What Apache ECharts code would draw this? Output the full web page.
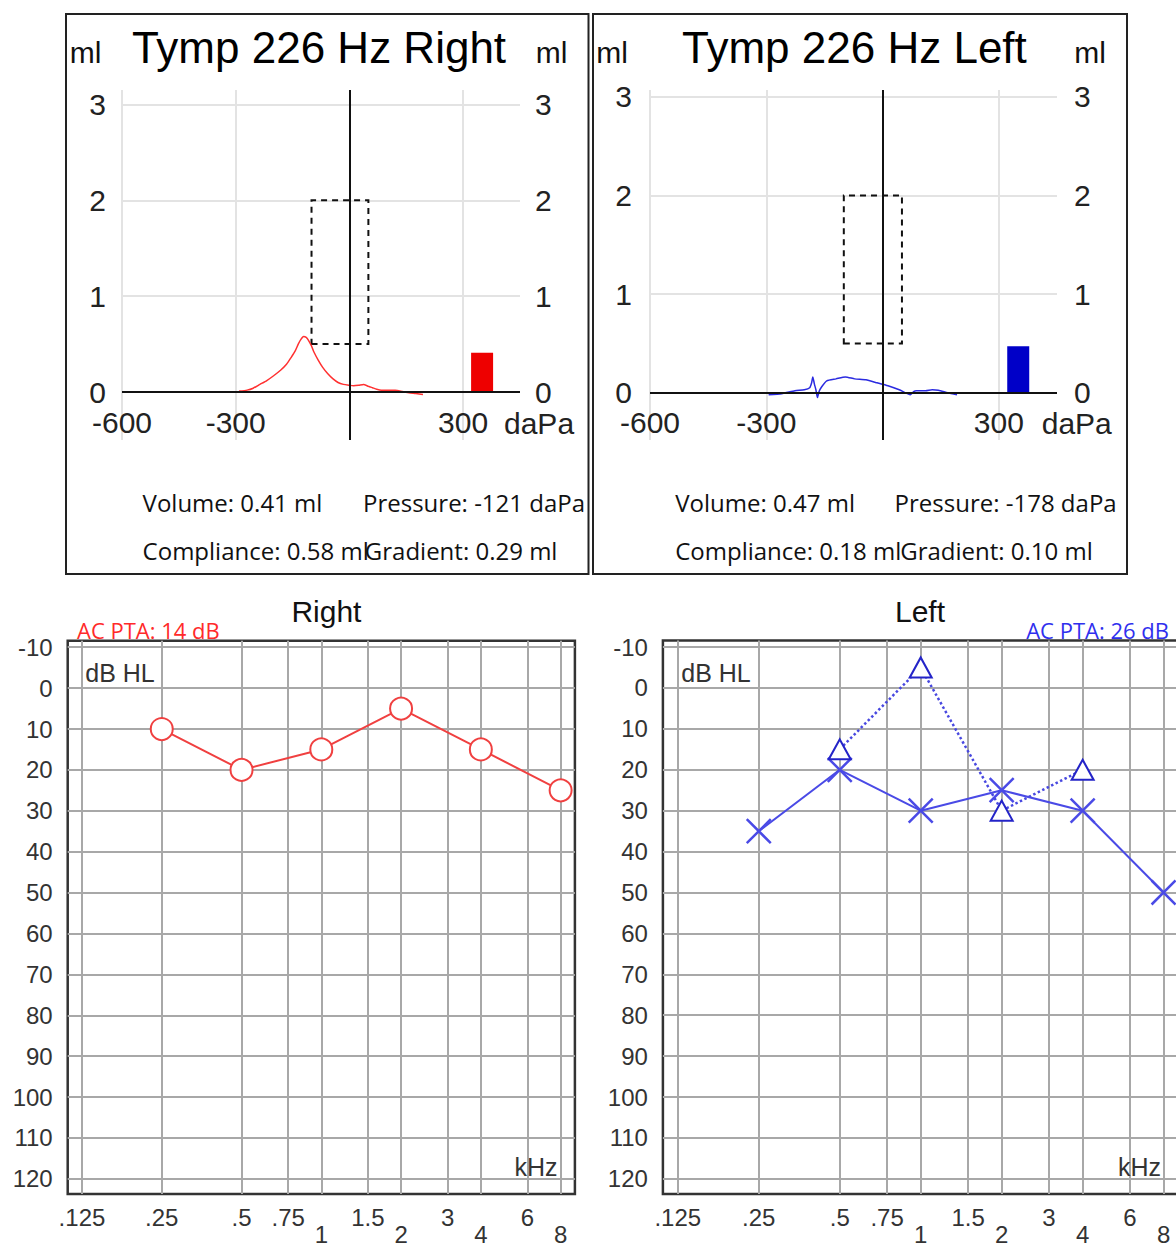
<!DOCTYPE html>
<html>
<head>
<meta charset="utf-8">
<title>Tympanometry and audiogram</title>
<script src="https://cdn.jsdelivr.net/npm/echarts@6/dist/echarts.min.js"></script>
<style>
  html, body { margin: 0; padding: 0; background: #fff; }
  #main { width: 1176px; height: 1251px; }
</style>
</head>
<body>
<div id="main"></div>
<script>
// tympanogram right ear: pressure (daPa) / compliance (ml)
const rightTympP  = [-291, -270, -254, -236, -218, -200, -181, -166, -154, -143, -135, -128, -121, -114, -108, -100, -94, -82, -71, -57, -44, -30, -16, 0, 11, 24, 37, 50, 61, 72, 84, 100, 121, 140, 157, 175, 194];
const rightTympMl = [0.01, 0.02, 0.04, 0.08, 0.12, 0.17, 0.23, 0.29, 0.36, 0.43, 0.50, 0.55, 0.58, 0.57, 0.54, 0.48, 0.42, 0.33, 0.26, 0.19, 0.14, 0.10, 0.08, 0.07, 0.065, 0.07, 0.08, 0.06, 0.045, 0.03, 0.02, 0.02, 0.018, 0.005, -0.007, -0.015, -0.025];
const rightVolume = 0.41;

// tympanogram left ear
const leftTympP  = [-294, -260, -226, -202, -188, -183, -180, -176, -172, -168, -164, -157, -144, -120, -96, -72, -43, -14, 14, 43, 72, 80, 87, 100, 111, 128, 144, 168, 192];
const leftTympMl = [-0.02, -0.01, 0.02, 0.03, 0.05, 0.10, 0.16, 0.09, 0.03, -0.05, 0.01, 0.06, 0.12, 0.14, 0.16, 0.14, 0.13, 0.10, 0.07, 0.03, -0.02, 0.01, 0.02, 0.02, 0.02, 0.03, 0.025, 0.0, -0.02];
const leftVolume = 0.47;

const tympXTicks = [-600, -300, 300];
const tympYTicks = [0, 1, 2, 3];

const rightStats = ['Volume: 0.41 ml', 'Pressure: -121 daPa', 'Compliance: 0.58 ml', 'Gradient: 0.29 ml'];
const leftStats  = ['Volume: 0.47 ml', 'Pressure: -178 daPa', 'Compliance: 0.18 ml', 'Gradient: 0.10 ml'];

// audiograms
const freqValues = [0.125, 0.25, 0.5, 0.75, 1, 1.5, 2, 3, 4, 6, 8];
const freqLabels = ['.125', '.25', '.5', '.75', '1', '1.5', '2', '3', '4', '6', '8'];
const lowRowLabels = ['1', '2', '4', '8'];
const dbTicks = [-10, 0, 10, 20, 30, 40, 50, 60, 70, 80, 90, 100, 110, 120];

const rightAcFreq = [0.25, 0.5, 1, 2, 4, 8];
const rightAcDb   = [10, 20, 15, 5, 15, 25];
const leftAcFreq  = [0.25, 0.5, 1, 2, 4, 8];
const leftAcDb    = [35, 20, 30, 25, 30, 50];
const leftTriFreq = [0.5, 1, 2, 4];
const leftTriDb   = [15, -5, 30, 20];

const SANS = '"Liberation Sans", Arial, sans-serif';
const UI = '"Open Sans", sans-serif';

// octave position on the frequency axis (0 = 125 Hz)
const oct = f => Math.log2(f / 0.125);
const freqPos = freqValues.map(oct);
const zip = (xs, ys) => xs.map((x, i) => [x, ys[i]]);

function tympX(grid) {
  return {
    gridIndex: grid, type: 'value', min: -600, max: 450,
    axisLine: { show: false, onZero: false },
    axisTick: { show: false, customValues: tympXTicks },
    axisLabel: { customValues: tympXTicks, inside: true, fontSize: 30, fontFamily: SANS, color: '#222', margin: 3 },
    splitLine: { show: true, lineStyle: { color: '#e3e3e3', width: 2 } }
  };
}

function tympY(grid, pos, min, max, margin) {
  return {
    gridIndex: grid, type: 'value', position: pos, min: min, max: max,
    axisLine: { show: false, onZero: false },
    axisTick: { show: false, customValues: [1, 2, 3] },
    axisLabel: { customValues: tympYTicks, fontSize: 30, fontFamily: SANS, color: '#222', margin: margin },
    splitLine: { show: pos === 'left', lineStyle: { color: '#e3e3e3', width: 2 } }
  };
}

function audX(grid, min, max) {
  return {
    gridIndex: grid, type: 'value', min: min, max: max,
    axisLine: { show: false, onZero: false },
    axisTick: { show: false, customValues: freqPos },
    axisLabel: {
      customValues: freqPos, fontSize: 24, fontFamily: SANS, color: '#333', margin: 15, lineHeight: 17,
      formatter: function (v) {
        const i = freqPos.findIndex(p => Math.abs(p - v) < 1e-6);
        if (i < 0) return '';
        const s = freqLabels[i];
        return lowRowLabels.indexOf(s) >= 0 ? '\n' + s : s;
      }
    },
    splitLine: { show: true, lineStyle: { color: '#a8a8a8', width: 2 } }
  };
}

function audY(grid) {
  return {
    gridIndex: grid, type: 'value', inverse: true, min: -11.6, max: 123.7,
    axisLine: { show: false, onZero: false },
    axisTick: { show: false, customValues: dbTicks },
    axisLabel: { customValues: dbTicks, fontSize: 24, fontFamily: SANS, color: '#333', margin: 15 },
    splitLine: { show: true, lineStyle: { color: '#a8a8a8', width: 2 } }
  };
}

function txt(x, y, s, size, family, color, align) {
  return {
    type: 'text', x: x, y: y, silent: true, z: 10,
    style: { text: s, fontSize: size, fontFamily: family, fill: color, align: align || 'center', verticalAlign: 'middle' }
  };
}

// black pressure 0 line and ml 0 baseline
const zeroLines = {
  silent: true, symbol: ['none', 'none'], label: { show: false },
  lineStyle: { color: '#111', type: 'solid', width: 2 },
  data: [{ xAxis: 0 }, { yAxis: 0 }]
};
const targetBox = {
  silent: true,
  itemStyle: { color: 'rgba(0,0,0,0)', borderColor: '#111', borderWidth: 2, borderType: [6, 5] },
  data: [[{ coord: [-100, 0.5] }, { coord: [50, 2] }]]
};

const option = {
  animation: false,
  backgroundColor: '#fff',
  grid: [
    { left: 122, top: 90, width: 398, height: 350, outerBoundsMode: 'none' },
    { left: 650, top: 90, width: 407, height: 350, outerBoundsMode: 'none' },
    { left: 67.7, top: 640.7, width: 507.2, height: 553.3, show: true, borderColor: '#333', borderWidth: 2.5, outerBoundsMode: 'none' },
    { left: 662.9, top: 640.5, width: 515.6, height: 553.5, show: true, borderColor: '#333', borderWidth: 2.5, outerBoundsMode: 'none' }
  ],
  xAxis: [
    tympX(0),
    tympX(1),
    audX(2, -0.179, 6.179),
    audX(3, -0.184, 6.184)
  ],
  yAxis: [
    tympY(0, 'left', -0.5, 3.15, 16),
    tympY(0, 'right', -0.5, 3.15, 15),
    tympY(1, 'left', -0.48, 3.07, 18),
    tympY(1, 'right', -0.48, 3.07, 17),
    audY(2),
    audY(3)
  ],
  series: [
    {
      name: 'Tymp Right', type: 'line', xAxisIndex: 0, yAxisIndex: 0,
      data: zip(rightTympP, rightTympMl), showSymbol: false, smooth: 0.2,
      lineStyle: { color: '#ff3030', width: 1.5 },
      markLine: zeroLines, markArea: targetBox
    },
    {
      name: 'Volume Right', type: 'bar', xAxisIndex: 0, yAxisIndex: 0,
      data: [[350, rightVolume]], barWidth: 22, itemStyle: { color: '#ee0000' }
    },
    {
      name: 'Tymp Left', type: 'line', xAxisIndex: 1, yAxisIndex: 2,
      data: zip(leftTympP, leftTympMl), showSymbol: false, smooth: 0.2,
      lineStyle: { color: '#2a2ae0', width: 1.5 },
      markLine: zeroLines, markArea: targetBox
    },
    {
      name: 'Volume Left', type: 'bar', xAxisIndex: 1, yAxisIndex: 2,
      data: [[350, leftVolume]], barWidth: 22, itemStyle: { color: '#0000c8' }
    },
    {
      name: 'AC Right', type: 'line', xAxisIndex: 2, yAxisIndex: 4,
      data: zip(rightAcFreq.map(oct), rightAcDb),
      symbol: 'emptyCircle', symbolSize: 22,
      itemStyle: { color: '#f04040', borderWidth: 2.5 },
      lineStyle: { color: '#f04040', width: 2 }
    },
    {
      name: 'AC Left', type: 'line', xAxisIndex: 3, yAxisIndex: 5,
      data: zip(leftAcFreq.map(oct), leftAcDb),
      symbol: 'path://M0,0L10,10M10,0L0,10', symbolSize: 24,
      itemStyle: { color: '#4a4ae6', borderColor: '#4a4ae6', borderWidth: 2.5 },
      lineStyle: { color: '#4a4ae6', width: 2 }
    },
    {
      name: 'Left triangle', type: 'line', xAxisIndex: 3, yAxisIndex: 5,
      data: zip(leftTriFreq.map(oct), leftTriDb),
      symbol: 'emptyTriangle', symbolSize: [22, 20],
      itemStyle: { color: '#2424c8', borderWidth: 2.5 },
      lineStyle: { color: '#4848e0', width: 2.5, type: 'dotted' }
    }
  ],
  graphic: [
    { type: 'rect', silent: true, shape: { x: 66, y: 14, width: 522.5, height: 560 }, style: { fill: 'none', stroke: '#222', lineWidth: 2 } },
    { type: 'rect', silent: true, shape: { x: 593, y: 14, width: 534, height: 560 }, style: { fill: 'none', stroke: '#222', lineWidth: 2 } },
    txt(319, 47.5, 'Tymp 226 Hz Right', 44, SANS, '#000'),
    txt(854.4, 47.5, 'Tymp 226 Hz Left', 44, SANS, '#000'),
    txt(85.5, 52, 'ml', 30, SANS, '#111'),
    txt(551.6, 52, 'ml', 30, SANS, '#111'),
    txt(612, 52, 'ml', 30, SANS, '#111'),
    txt(1090, 52, 'ml', 30, SANS, '#111'),
    txt(504, 423, 'daPa', 30, SANS, '#222', 'left'),
    txt(1041.7, 423, 'daPa', 30, SANS, '#222', 'left'),
    txt(142.6, 502.5, rightStats[0], 24, UI, '#111', 'left'),
    txt(363, 502.5, rightStats[1], 24, UI, '#111', 'left'),
    txt(142.6, 550, rightStats[2], 24, UI, '#111', 'left'),
    txt(364.8, 550, rightStats[3], 24, UI, '#111', 'left'),
    txt(675.2, 502.5, leftStats[0], 24, UI, '#111', 'left'),
    txt(894.6, 502.5, leftStats[1], 24, UI, '#111', 'left'),
    txt(675.2, 550, leftStats[2], 24, UI, '#111', 'left'),
    txt(900.2, 550, leftStats[3], 24, UI, '#111', 'left'),
    txt(326.4, 611.5, 'Right', 30, SANS, '#111'),
    txt(920, 611.5, 'Left', 30, SANS, '#111'),
    txt(77, 630, 'AC PTA: 14 dB', 22, UI, '#ff2a2a', 'left'),
    txt(1169, 629.5, 'AC PTA: 26 dB', 22, UI, '#2f2fee', 'right'),
    txt(120, 673, 'dB HL', 25, SANS, '#333'),
    txt(716, 673, 'dB HL', 25, SANS, '#333'),
    txt(536, 1167, 'kHz', 25, SANS, '#333'),
    txt(1139.5, 1167, 'kHz', 25, SANS, '#333')
  ]
};

const chart = echarts.init(document.getElementById('main'), null, { renderer: 'svg' });
chart.setOption(option);
</script>
</body>
</html>
